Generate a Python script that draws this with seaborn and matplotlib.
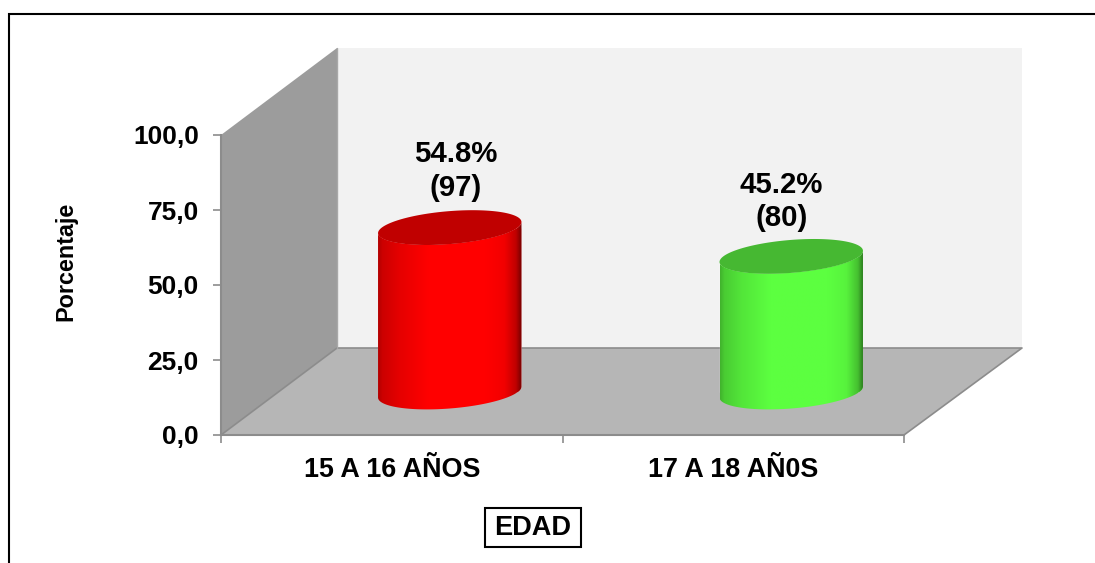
import numpy as np
import matplotlib
matplotlib.use("Agg")
import matplotlib.pyplot as plt
import seaborn as sns
from matplotlib.patches import Polygon, Rectangle

categories = ["15 A 16 AÑOS", "17 A 18 AÑ0S"]
percentages = [54.8, 45.2]
counts = [97, 80]
y_ticks = [0, 25, 50, 75, 100]
bar_colors = ["#FF0000", "#5CFF40"]
cap_colors = ["#C00000", "#46B832"]
label_shift = [(6, 26), (-10, 24)]

W, H = 1095, 563
GRAY = "#8C8C8C"


def axes_box(left, right, top, bottom):
    # pixel box (origin top left) to figure fractions
    return [left / W, 1 - bottom / H, (right - left) / W, (bottom - top) / H]


def side_shading(color):
    """Horizontal shading of a cylinder side, as one row of RGB values."""
    stops = [0, 0.03, 0.15, 0.35, 0.75, 0.88, 0.96, 1]
    light = [0.7, 0.8, 0.9, 1, 1, 0.95, 0.75, 0.45]
    f = np.interp(np.linspace(0, 1, 300), stops, light)
    rgb = np.array(matplotlib.colors.to_rgb(color))
    return (f[:, None] * rgb)[None, :, :]


sns.set_theme(style="white")
plt.rcParams["font.family"] = ["Liberation Sans", "DejaVu Sans"]
plt.rcParams["font.weight"] = "bold"

fig = plt.figure(figsize=(W / 100, H / 100), dpi=100)

# walls, floor and outer frame, in pixels
bg = fig.add_axes([0, 0, 1, 1], zorder=0)
bg.set_xlim(0, W)
bg.set_ylim(H, 0)
bg.axis("off")
bg.add_patch(Polygon([(337, 48), (1022, 48), (1022, 348), (337, 348)], fc="#F2F2F2", ec="none"))
bg.add_patch(Polygon([(221, 135), (337, 48), (337, 348), (221, 435)], fc="#9C9C9C", ec="none"))
bg.add_patch(Polygon([(221, 435), (337, 348), (1022, 348), (904, 435)], fc="#B6B6B6", ec="none"))
bg.plot([221, 337, 1022, 904], [435, 348, 348, 435], color=GRAY, lw=1.2)
bg.plot([337, 337], [48, 348], color="#A8A8A8", lw=1)
bg.plot([9, 9, W], [H, 14, 14], color="black", lw=1.5, solid_joinstyle="miter")

# front plane, holds the axes and labels
ax = fig.add_axes(axes_box(221, 904, 135, 435), zorder=1)
ax.patch.set_alpha(0)
ax.set_xlim(-0.5, 1.5)
ax.set_ylim(0, 100)
for side in ["top", "right"]:
    ax.spines[side].set_visible(False)
for side in ["left", "bottom"]:
    ax.spines[side].set_color(GRAY)
    ax.spines[side].set_linewidth(1.5)
ax.set_yticks(y_ticks)
ax.set_yticklabels([f"{t:.1f}".replace(".", ",") for t in y_ticks], fontsize=19, fontweight="bold")
ax.tick_params(axis="y", left=True, length=6, width=1.2, color=GRAY, pad=10, labelcolor="black")
ax.set_xticks(range(len(categories)))
ax.set_xticklabels(categories, fontsize=19.4, fontweight="bold")
ax.tick_params(axis="x", bottom=True, length=0, pad=16, labelcolor="black")
ax.set_xticks([-0.5, 0.5, 1.5], minor=True)
ax.tick_params(axis="x", which="minor", bottom=True, length=6, width=1.2, color=GRAY)
ax.set_ylabel("Porcentaje", fontsize=16.8, fontweight="bold", color="black")
ax.yaxis.set_label_coords((77 - 221) / 683, (435 - 261) / 300)
bg.add_patch(Rectangle((484.5, 507.5), 96, 39, fc="white", ec="black", lw=1.5, zorder=3))
ax.text((532.5 - 221) / 683, (435 - 528) / 300, "EDAD", transform=ax.transAxes, ha="center",
        va="center", fontsize=19.5, fontweight="bold", color="black", clip_on=False)

# cylinders sit halfway into the depth of the floor
bars = fig.add_axes(axes_box(279, 962, 92, 452), zorder=2)
bars.patch.set_alpha(0)
sns.barplot(x=categories, y=percentages, hue=categories, palette=bar_colors, width=0.42,
            legend=False, ax=bars, saturation=1)
bars.set_xlim(-0.5, 1.5)
bars.set_ylim(-20, 100)
bars.axis("off")

t = np.linspace(0, 2 * np.pi, 200)
lower = np.linspace(np.pi, 2 * np.pi, 100)
cap_b, cap_s = 5.5, 1.85
for i, patch in enumerate(bars.patches):
    cx = patch.get_x() + patch.get_width() / 2
    a = patch.get_width() / 2
    top = patch.get_height()
    bottom_x = cx + a * np.cos(lower)
    bottom_y = cap_b * np.sin(lower) + cap_s * np.cos(lower)
    side_x = np.r_[bottom_x, bottom_x[::-1]]
    side_y = np.r_[bottom_y, bottom_y[::-1] + top]
    outline = Polygon(np.c_[side_x, side_y], transform=bars.transData, fc="none", ec="none")
    bars.add_patch(outline)
    patch.set_clip_path(outline)
    img = bars.imshow(side_shading(bar_colors[i]), extent=[cx - a, cx + a, -20, top + 10],
                      aspect="auto", zorder=3, interpolation="bilinear")
    img.set_clip_path(outline)
    bars.fill(cx + a * np.cos(t), top + cap_b * np.sin(t) + cap_s * np.cos(t),
              color=cap_colors[i], lw=0, zorder=4)
    bars.annotate(f"{percentages[i]}%\n({counts[i]})", (cx, top), xytext=label_shift[i],
                  textcoords="offset pixels", ha="center", va="bottom", fontsize=21.2,
                  fontweight="bold", color="black", linespacing=1.25, zorder=5)
bars.set_xlim(-0.5, 1.5)
bars.set_ylim(-20, 100)

fig.savefig("out.png", dpi=100)
